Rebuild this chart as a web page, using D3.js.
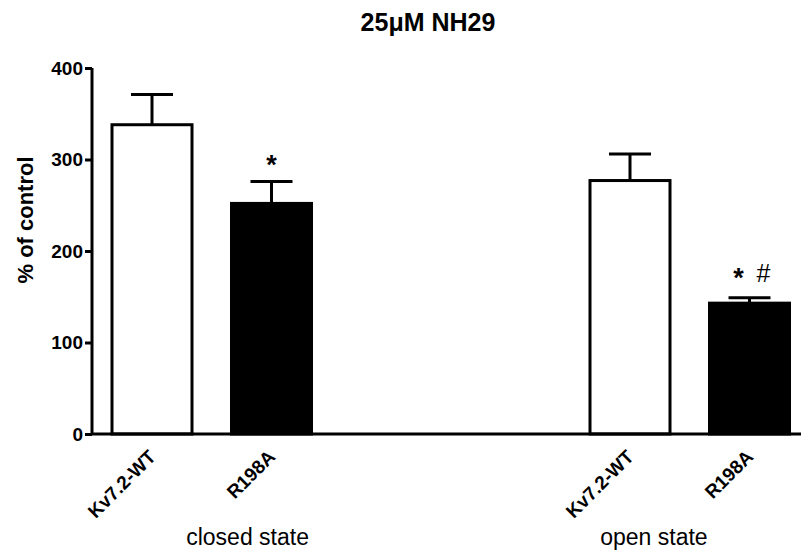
<!DOCTYPE html>
<html>
<head>
<meta charset="utf-8">
<script src="https://cdn.jsdelivr.net/npm/d3@7"></script>
<style>
  html, body { margin: 0; padding: 0; background: #fff; }
  svg { display: block; font-family: "Liberation Sans", Arial, sans-serif; }
</style>
</head>
<body>
<svg id="chart" width="804" height="551"></svg>
<script>
// data
const labels   = ['Kv7.2-WT', 'R198A', 'Kv7.2-WT', 'R198A'];
const slots    = [0, 1, 4, 5];           // position along x, with a gap between groups
const means    = [338, 252, 277, 143];
const sems     = [33, 24, 29, 6];
const fills    = ['#fff', '#000', '#fff', '#000'];
const marks    = [[], ['*'], [], ['*', '#']];
const groups   = ['closed state', 'open state'];
const groupPos = [0.8, 4.2];
const yTicks   = [0, 100, 200, 300, 400];

const svg = d3.select('#chart');

const x = d3.scaleLinear().domain([0, 5]).range([152, 749.5]);
const y = d3.scaleLinear().domain([0, 400]).range([434, 68]);
const barW = 80;
const capW = 42;

// title
svg.append('text')
  .attr('x', 428).attr('y', 31)
  .attr('text-anchor', 'middle')
  .attr('font-size', 25).attr('font-weight', 'bold')
  .text('25μM NH29');

// y axis
const yAxis = svg.append('g')
  .attr('transform', 'translate(92,0)')
  .call(d3.axisLeft(y).tickValues(yTicks).tickSize(7).tickPadding(2));
yAxis.select('.domain').attr('stroke-width', 3).attr('d', `M0,${y(400)}V${y(0)}`);
yAxis.selectAll('.tick line').attr('stroke-width', 3);
yAxis.selectAll('.tick text')
  .attr('font-size', 19).attr('font-weight', 'bold')
  .attr('font-family', '"Liberation Sans", Arial, sans-serif')
  .attr('fill', '#000');

svg.append('text')
  .attr('transform', `translate(33,220) rotate(-90)`)
  .attr('text-anchor', 'middle')
  .attr('font-size', 22).attr('font-weight', 'bold')
  .text('% of control');

const data = labels.map((l, i) => ({
  label: l, slot: slots[i], mean: means[i], sem: sems[i], fill: fills[i], mark: marks[i]
}));

// error bars (upper only), drawn under the bars
const eb = svg.append('g').attr('stroke', '#000').attr('stroke-width', 3);
eb.selectAll('line.v').data(data).join('line')
  .attr('x1', d => x(d.slot)).attr('x2', d => x(d.slot))
  .attr('y1', d => y(d.mean)).attr('y2', d => y(d.mean + d.sem));
eb.selectAll('line.c').data(data).join('line')
  .attr('x1', d => x(d.slot) - capW / 2).attr('x2', d => x(d.slot) + capW / 2)
  .attr('y1', d => y(d.mean + d.sem)).attr('y2', d => y(d.mean + d.sem));

// bars
svg.append('g').selectAll('rect').data(data).join('rect')
  .attr('x', d => x(d.slot) - barW / 2)
  .attr('width', barW)
  .attr('y', d => y(d.mean))
  .attr('height', d => y(0) - y(d.mean))
  .attr('fill', d => d.fill)
  .attr('stroke', '#000').attr('stroke-width', 3);

// x axis line
svg.append('line')
  .attr('x1', 92).attr('x2', 801)
  .attr('y1', y(0)).attr('y2', y(0))
  .attr('stroke', '#000').attr('stroke-width', 3);

// significance marks: '*' vs WT, '#' vs closed state
const markItems = data.flatMap(d => d.mark.map((m, j) => ({
  m, n: d.mark.length,
  cx: x(d.slot) + (d.mark.length > 1 ? (j - 0.5) * 25 + 1.5 : 0),
  top: y(d.mean + d.sem)
})));
svg.append('g').selectAll('text').data(markItems).join('text')
  .attr('x', d => d.cx)
  .attr('y', d => d.m === '*' ? d.top - 7 - (d.n > 1 ? 4 : 0) : d.top - 16)
  .attr('text-anchor', 'middle')
  .attr('font-size', d => d.m === '*' ? 27 : 25)
  .attr('font-weight', d => d.m === '*' ? 'bold' : 'normal')
  .text(d => d.m);

// rotated category labels
svg.append('g').selectAll('text').data(data).join('text')
  .attr('transform', d => `translate(${x(d.slot) + 5},458) rotate(-45)`)
  .attr('text-anchor', 'end')
  .attr('font-size', 19).attr('font-weight', 'bold')
  .text(d => d.label);

// group labels
svg.append('g').selectAll('text').data(groups).join('text')
  .attr('x', (d, i) => x(groupPos[i]))
  .attr('y', 545)
  .attr('text-anchor', 'middle')
  .attr('font-size', 23)
  .text(d => d);
</script>
</body>
</html>
